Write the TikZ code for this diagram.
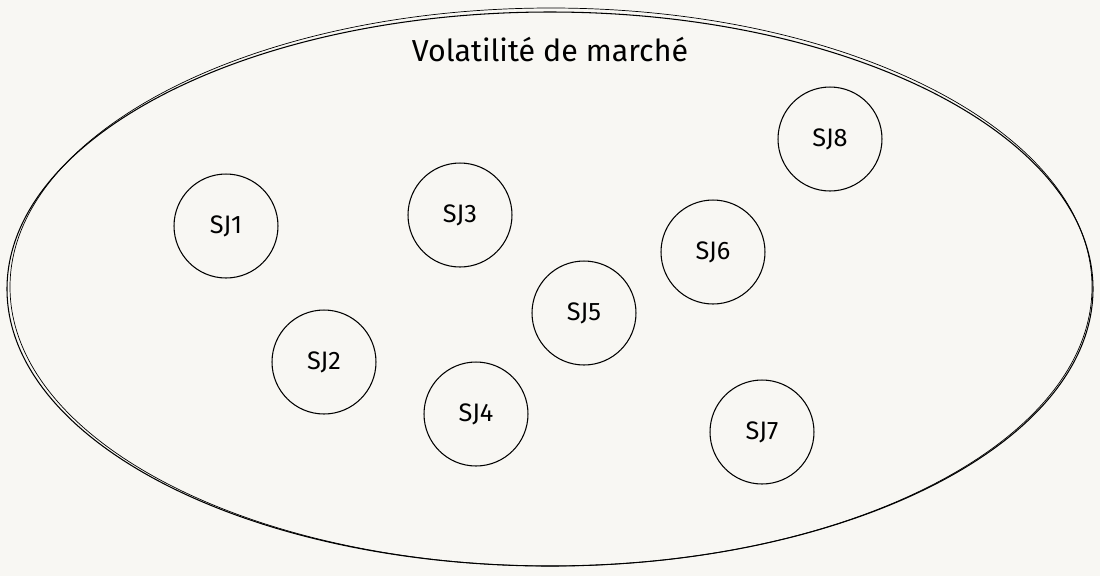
\documentclass[tikz,border=0pt]{standalone}
\usepackage{fontspec}
\setmainfont{Fira Sans}
\usepackage{xcolor}
\definecolor{paper}{HTML}{F8F7F3}
\begin{document}
\begin{tikzpicture}[x=0.02cm,y=-0.02cm,
    sj/.style={draw,circle,minimum size=2.08cm,inner sep=0pt,font=\Large,line width=0.6pt}]
        \fill[paper] (0,0) rectangle (1100,576);
        \useasboundingbox (0,0) rectangle (1100,576);
        \draw[line width=0.6pt] (550,289) ellipse (543 and 277);
        \draw[line width=0.4pt] (551,287) ellipse (541 and 279);
        \node[font=\LARGE] (title) at (550,50) {Volatilité de marché};
        \node[sj] (sj1) at (226,226) {SJ1};
        \node[sj] (sj2) at (324,362) {SJ2};
        \node[sj] (sj3) at (460,215) {SJ3};
        \node[sj] (sj4) at (476,414) {SJ4};
        \node[sj] (sj5) at (584,313) {SJ5};
        \node[sj] (sj6) at (713,252) {SJ6};
        \node[sj] (sj7) at (762,432) {SJ7};
        \node[sj] (sj8) at (830,139) {SJ8};
    \end{tikzpicture}
\end{document}
